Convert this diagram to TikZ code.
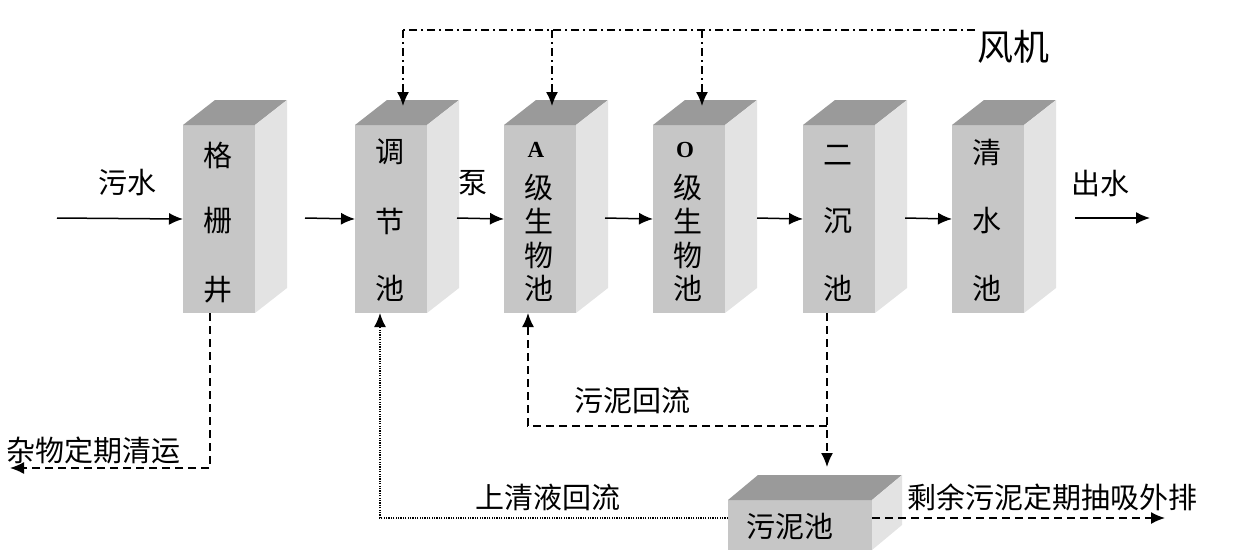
\documentclass[tikz,border=0pt]{standalone}
\usepackage{fontspec}
\newfontfamily\cjk{Noto Sans CJK SC}
\newfontfamily\serifb{Liberation Serif}
\usetikzlibrary{arrows.meta,calc}
\definecolor{frontc}{HTML}{C6C6C6}
\definecolor{topc}{HTML}{9A9A9A}
\definecolor{sidec}{HTML}{E3E3E3}
\tikzset{
  front/.style={fill=frontc,inner sep=0pt,outer sep=0pt,minimum width=36pt,minimum height=94pt,anchor=north west},
  lbl/.style={font=\cjk\fontsize{14.5}{16}\selectfont,inner sep=0pt},
  big/.style={font=\cjk\fontsize{18}{20}\selectfont,inner sep=0pt},
  ltr/.style={font=\serifb\bfseries\fontsize{11.5}{13}\selectfont,inner sep=0pt},
  tip/.style={-{Latex[length=7pt,width=6pt]}},
  flow/.style={line width=0.75pt},
  dashln/.style={line width=0.75pt,dash pattern=on 4pt off 2.5pt},
  dotln/.style={line width=0.75pt,dash pattern=on 0.6pt off 0.6pt},
  dashdot/.style={line width=0.75pt,dash pattern=on 4pt off 2pt on 1pt off 2pt},
}
\begin{document}
\begin{tikzpicture}[x=0.5pt,y=-0.5pt]
\useasboundingbox (0,0) rectangle (1235,559);
% boxes
\foreach \n/\x in {b1/183,b2/355,b3/504,b4/653,b5/803,b6/952} {
  \node[front] (\n) at (\x,125) {};
  \fill[topc] (\n.north west) -- ++(32,-25) -- ++(72,0) -- (\n.north east) -- cycle;
  \fill[sidec] (\n.north east) -- ++(32,-25) -- ++(0,188) -- (\n.south east) -- cycle;
}
% sludge tank
\node[front,minimum width=72pt,minimum height=25pt] (sl) at (728,500) {};
\fill[topc] (sl.north west) -- ++(30,-25) -- ++(144,0) -- (sl.north east) -- cycle;
\fill[sidec] (sl.north east) -- ++(30,-25) -- ++(0,50) -- (sl.south east) -- cycle;
\node[lbl] (tsl) at (790,527) {污泥池};
% box texts
\node[lbl] (t11) at (218,155) {格};
\node[lbl] (t12) at (218,221) {栅};
\node[lbl] (t13) at (218,290) {井};
\node[lbl] (t21) at (390,152) {调};
\node[lbl] (t22) at (390,221) {节};
\node[lbl] (t23) at (390,288) {池};
\node[ltr] (t31) at (536,150) {A};
\node[lbl] (t32) at (539,187) {级};
\node[lbl] (t33) at (539,221) {生};
\node[lbl] (t34) at (539,255) {物};
\node[lbl] (t35) at (539,288) {池};
\node[ltr] (t41) at (685,150) {O};
\node[lbl] (t42) at (688,187) {级};
\node[lbl] (t43) at (688,221) {生};
\node[lbl] (t44) at (688,255) {物};
\node[lbl] (t45) at (688,288) {池};
\node[lbl] (t51) at (838,155) {二};
\node[lbl] (t52) at (838,221) {沉};
\node[lbl] (t53) at (838,288) {池};
\node[lbl] (t61) at (987,152) {清};
\node[lbl] (t62) at (987,221) {水};
\node[lbl] (t63) at (987,288) {池};
% labels
\node[lbl] (lin) at (127,183) {污水};
\node[lbl] (lpump) at (473,183) {泵};
\node[lbl] (lout) at (1100,183) {出水};
\node[big] (lfan) at (1013,47) {风机};
\node[lbl] (ltrash) at (93,450) {杂物定期清运};
\node[lbl] (lsr) at (632,400) {污泥回流};
\node[lbl] (lsup) at (548,497) {上清液回流};
\node[lbl] (lex) at (1052,497) {剩余污泥定期抽吸外排};
% main flow
\coordinate (s0) at (57,218);
\coordinate (s1) at (305,218);
\coordinate (s2) at (457,218);
\coordinate (s3) at (605,218);
\coordinate (s4) at (757,218);
\coordinate (s5) at (905,218);
\coordinate (s6) at (1075,218);
\coordinate (e6) at (1150,218);
\draw[flow,tip] (s0) -- (b1.west);
\draw[flow,tip] (s1) -- (b2.west);
\draw[flow,tip] (s2) -- (b3.west);
\draw[flow,tip] (s3) -- (b4.west);
\draw[flow,tip] (s4) -- (b5.west);
\draw[flow,tip] (s5) -- (b6.west);
\draw[flow,tip] (s6) -- (e6);
% blower
\coordinate (f0) at (975,30);
\coordinate (f1) at (403,30);
\coordinate (f2) at (552,30);
\coordinate (f3) at (702,30);
\coordinate (a1) at (403,106);
\coordinate (a2) at (552,106);
\coordinate (a3) at (702,106);
\draw[dashdot] (f0) -- (f1);
\draw[dashdot,tip] (f1) -- (a1);
\draw[dashdot,tip] (f2) -- (a2);
\draw[dashdot,tip] (f3) -- (a3);
% screenings
\coordinate (g0) at (210,313);
\coordinate (g1) at (210,468);
\coordinate (g2) at (10,468);
\draw[dashln,tip] (g0) -- (g1) -- (g2);
% sludge return
\coordinate (h0) at (827,313);
\coordinate (h1) at (827,426);
\coordinate (h2) at (528,426);
\coordinate (h3) at (528,313);
\coordinate (h4) at (827,467);
\draw[dashln,tip] (h1) -- (h2) -- (h3);
\draw[dashln,tip] (h0) -- (h4);
% supernatant return
\coordinate (k0) at (728,518);
\coordinate (k1) at (380,518);
\coordinate (k2) at (380,313);
\draw[dotln,tip] (k0) -- (k1) -- (k2);
% excess sludge
\coordinate (m0) at (872,518);
\coordinate (m1) at (1165,518);
\draw[dashln,tip] (m0) -- (m1);
\end{tikzpicture}
\end{document}
